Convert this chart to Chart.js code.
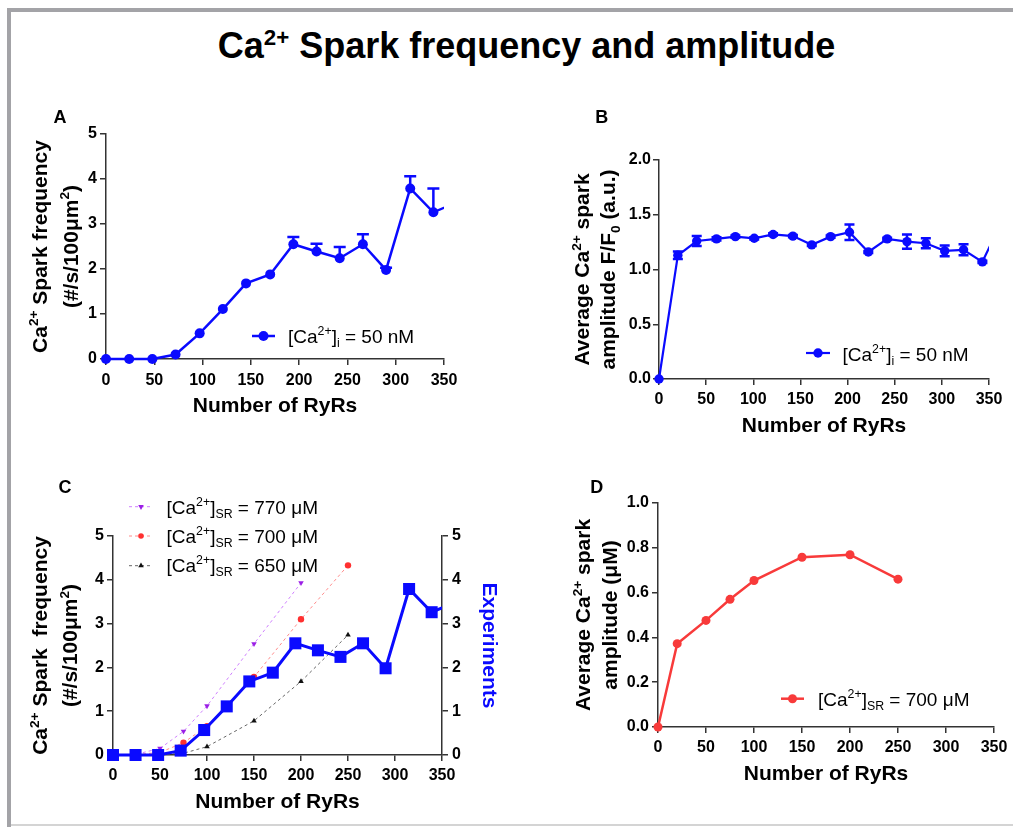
<!DOCTYPE html>
<html><head><meta charset="utf-8">
<script src="https://cdn.jsdelivr.net/npm/chart.js@4.4.1/dist/chart.umd.min.js"></script>
<style>
body{margin:0;background:#fff}
#page{position:relative;width:1013px;height:827px;overflow:hidden;background:#fff;font-family:'Liberation Sans',Arial,sans-serif}
.fr{position:absolute;background:#a3a3a7}
canvas{position:absolute}
#title{position:absolute;left:20px;width:1013px;top:28px;text-align:center;font-weight:bold;font-size:36px;line-height:36px;color:#000;white-space:nowrap}
#title span{font-size:0.62em;position:relative;top:-0.6em}
</style></head><body>
<div id="page">
<div class="fr" style="left:7px;top:8px;width:1006px;height:4px"></div>
<div class="fr" style="left:7px;top:8px;width:4px;height:819px"></div>
<div class="fr" style="left:11px;top:824px;width:1002px;height:2px;background:#d4d4d4"></div>
<div id="title">Ca<span>2+</span> Spark frequency and amplitude</div>
<canvas id="cA" width="470" height="330" style="left:0;top:100px"></canvas>
<canvas id="cB" width="513" height="340" style="left:500px;top:100px"></canvas>
<canvas id="cC" width="510" height="350" style="left:0;top:470px"></canvas>
<canvas id="cD" width="483" height="330" style="left:530px;top:470px"></canvas>
</div>
<script>
// ---------- DATA ----------
// Panel A / C (experiments): number of RyRs, spark frequency (#/s/100um2), SEM (upper bar)
const ryrA = [0, 24, 48, 72, 97, 121, 145, 170, 194, 218, 242, 266, 290, 315, 339, 363];
const freqA = [0, 0, 0, 0.10, 0.57, 1.11, 1.68, 1.88, 2.55, 2.39, 2.24, 2.55, 1.98, 3.79, 3.26, 3.48];
const freqErrA = [0, 0, 0, 0, 0, 0, 0, 0, 0.16, 0.17, 0.25, 0.22, 0.05, 0.27, 0.53, 0];
// Panel B: amplitude F/F0 with SEM
const ryrB = [0, 20, 40, 61, 81, 101, 121, 142, 162, 182, 202, 222, 242, 263, 283, 303, 323, 343, 364];
const ampB = [0, 1.13, 1.26, 1.28, 1.30, 1.285, 1.32, 1.305, 1.225, 1.30, 1.34, 1.16, 1.28, 1.255, 1.24, 1.17, 1.18, 1.07, 1.45];
const ampErrB = [0, 0.035, 0.045, 0.015, 0.01, 0.01, 0.01, 0.01, 0.01, 0.01, 0.07, 0.01, 0.01, 0.065, 0.045, 0.05, 0.05, 0.01, 0];
// Panel C: simulations
const ryrSim = [0, 25, 50, 75, 100, 150, 200, 250];
const sim770 = [0, 0.02, 0.15, 0.54, 1.12, 2.54, 3.93, null];
const sim700 = [0, 0.01, 0.06, 0.28, 0.66, 1.78, 3.10, 4.33];
const sim650 = [0, 0, 0.01, 0.04, 0.19, 0.78, 1.68, 2.74];
// Panel D: simulated amplitude (uM)
const ryrD = [0, 20, 50, 75, 100, 150, 200, 250];
const ampD = [0, 0.372, 0.476, 0.57, 0.654, 0.758, 0.769, 0.66];
// Tick labels
const ticksRyR = [0, 50, 100, 150, 200, 250, 300, 350];
const ticksFreq = [0, 1, 2, 3, 4, 5];
const ticksAmpB = [0, 0.5, 1.0, 1.5, 2.0];
const ticksAmpD = [0, 0.2, 0.4, 0.6, 0.8, 1.0];

// ---------- STYLE ----------
const FONT = "'Liberation Sans', Arial, sans-serif";
const BLUE = '#0a0aff';
const RED = '#f83a3a';
const AX = '#333333';

function pts(xs, ys) { return ys.map((y, i) => ({x: xs[i], y})).filter(p => p.y !== null && p.y !== undefined); }

function drawRich(ctx, segs, x, y, o) {
  ctx.save();
  ctx.translate(x, y);
  if (o.rotate) ctx.rotate(o.rotate);
  const f = s => `${o.weight || 'normal'} ${s}px ${FONT}`;
  let w = 0;
  const parts = segs.map(([t, k]) => { const s = k ? o.size * 0.65 : o.size; ctx.font = f(s); const m = ctx.measureText(t).width; w += m; return {t, k, s, m}; });
  let cx = o.align === 'center' ? -w / 2 : 0;
  ctx.fillStyle = o.color || '#000';
  ctx.textBaseline = 'alphabetic';
  ctx.textAlign = 'left';
  for (const p of parts) {
    ctx.font = f(p.s);
    const dy = p.k === 'sup' ? -o.size * 0.40 : (p.k === 'sub' ? o.size * 0.22 : 0);
    ctx.fillText(p.t, cx, dy);
    cx += p.m;
  }
  ctx.restore();
}

function drawMarker(ctx, style, x, y, r, color) {
  ctx.save();
  ctx.fillStyle = color;
  ctx.beginPath();
  if (style === 'circle') ctx.arc(x, y, r, 0, Math.PI * 2);
  else if (style === 'rect') { const s = r * Math.SQRT1_2; ctx.rect(x - s, y - s, 2 * s, 2 * s); }
  else {
    const d = style === 'triangle' ? 1 : -1;
    ctx.moveTo(x, y - d * r);
    ctx.lineTo(x - r * 0.866, y + d * r * 0.5);
    ctx.lineTo(x + r * 0.866, y + d * r * 0.5);
    ctx.closePath();
  }
  ctx.fill();
  ctx.restore();
}

function decor(cfg) {
  return {
    id: 'decor',
    beforeDatasetsDraw(chart) {
      const ctx = chart.ctx, a = chart.chartArea;
      chart.data.datasets.forEach((ds, i) => {
        if (!ds.errors) return;
        const meta = chart.getDatasetMeta(i);
        const ys = chart.scales[meta.yAxisID];
        ctx.save();
        ctx.beginPath(); ctx.rect(a.left - 10, a.top - 10, a.right - a.left + 10, a.bottom - a.top + 20); ctx.clip();
        ctx.strokeStyle = ds.borderColor; ctx.lineWidth = ds.errWidth || 2.5;
        meta.data.forEach((el, j) => {
          const e = ds.errors[j]; if (!e) return;
          const v = ds.data[j].y;
          const yHi = ys.getPixelForValue(v + e);
          const yLo = ds.errMode === 'both' ? ys.getPixelForValue(v - e) : el.y;
          const cw = ds.capHalf || 5;
          ctx.beginPath();
          ctx.moveTo(el.x, yLo); ctx.lineTo(el.x, yHi);
          ctx.moveTo(el.x - cw, yHi); ctx.lineTo(el.x + cw, yHi);
          if (ds.errMode === 'both') { ctx.moveTo(el.x - cw, yLo); ctx.lineTo(el.x + cw, yLo); }
          ctx.stroke();
        });
        ctx.restore();
      });
    },
    afterDraw(chart) {
      const ctx = chart.ctx, a = chart.chartArea;
      const cy = (a.top + a.bottom) / 2, cx = (a.left + a.right) / 2;
      drawRich(ctx, [[cfg.letter, '']], cfg.letterX, 23, {size: 18, weight: 'bold', align: 'center'});
      cfg.yTitle.forEach((line, k) => drawRich(ctx, line, cfg.yTitleX[k], cy, {size: 21, weight: 'bold', align: 'center', rotate: -Math.PI / 2}));
      drawRich(ctx, [['Number of RyRs', '']], cx, a.bottom + 53, {size: 21, weight: 'bold', align: 'center'});
      if (cfg.rightTitle) drawRich(ctx, cfg.rightTitle.segs, cfg.rightTitle.x, cy, {size: 21, weight: 'bold', align: 'center', rotate: Math.PI / 2, color: cfg.rightTitle.color});
      cfg.legend.forEach(it => {
        ctx.save();
        ctx.strokeStyle = it.lineColor; ctx.lineWidth = it.lineWidth;
        ctx.setLineDash(it.dash || []);
        ctx.beginPath(); ctx.moveTo(it.x1, it.y); ctx.lineTo(it.x2, it.y); ctx.stroke();
        ctx.restore();
        drawMarker(ctx, it.marker, (it.x1 + it.x2) / 2, it.y, it.r, it.markerColor);
        drawRich(ctx, it.segs, it.tx, it.ty, {size: 19, weight: 'normal', align: 'left'});
      });
    }
  };
}

function axis(pos, tickVals, fmt, size, pad) {
  const horiz = pos === 'bottom';
  return {
    type: 'linear', position: pos,
    min: tickVals[0], max: tickVals[tickVals.length - 1],
    afterBuildTicks: s => { s.ticks = tickVals.map(v => ({value: v})); },
    afterFit: s => { if (horiz) s.height = size; else s.width = size; },
    grid: {display: true, drawOnChartArea: false, drawTicks: true, tickLength: 6, color: AX, lineWidth: 1.5},
    border: {display: true, color: AX, width: 1.5},
    ticks: {autoSkip: false, maxRotation: 0, color: '#000', padding: pad, font: {family: FONT, size: 16, weight: 'bold'}, callback: fmt},
    title: {display: false}
  };
}
const fmtInt = v => String(v);
const fmt1 = v => Number(v).toFixed(1);
const CLIP = {left: 10, top: 10, right: 0, bottom: 10};

function baseOptions(padding, scales) {
  return {
    responsive: false, animation: false, events: [],
    layout: {padding},
    plugins: {legend: {display: false}, tooltip: {enabled: false}},
    scales
  };
}

// sup/sub rich text pieces
const caI = [['[Ca', ''], ['2+', 'sup'], [']', ''], ['i', 'sub'], [' = 50 nM', '']];
const caSR = v => [['[Ca', ''], ['2+', 'sup'], [']', ''], ['SR', 'sub'], [' = ' + v + ' \u03bcM', '']];

// ---------- PANEL A ----------
new Chart(document.getElementById('cA'), {
  type: 'line',
  data: {datasets: [{
    data: pts(ryrA, freqA), errors: freqErrA, errMode: 'up', capHalf: 6, errWidth: 2.5,
    borderColor: BLUE, backgroundColor: BLUE, borderWidth: 2.5, tension: 0,
    pointRadius: 5, pointHoverRadius: 5, pointBackgroundColor: BLUE, pointBorderColor: BLUE, pointBorderWidth: 0,
    clip: CLIP
  }]},
  options: baseOptions({top: 34, right: 26, left: 0, bottom: 0}, {
    x: axis('bottom', ticksRyR, fmtInt, 71, 6),
    y: axis('left', ticksFreq, fmtInt, 106, 3)
  }),
  plugins: [decor({
    letter: 'A', letterX: 60,
    yTitle: [[['Ca', ''], ['2+', 'sup'], [' Spark frequency', '']], [['(#/s/100\u03bcm', ''], ['2', 'sup'], [')', '']]],
    yTitleX: [46.7, 77.5],
    legend: [{x1: 252, x2: 275, y: 236, lineColor: BLUE, lineWidth: 2.5, marker: 'circle', r: 5, markerColor: BLUE, tx: 288, ty: 243, segs: caI}]
  })]
});

// ---------- PANEL B ----------
new Chart(document.getElementById('cB'), {
  type: 'line',
  data: {datasets: [{
    data: pts(ryrB, ampB), errors: ampErrB, errMode: 'both', capHalf: 5, errWidth: 2.5,
    borderColor: BLUE, backgroundColor: BLUE, borderWidth: 2.2, tension: 0,
    pointRadius: 4.7, pointHoverRadius: 4.7, pointBackgroundColor: BLUE, pointBorderColor: BLUE, pointBorderWidth: 0,
    clip: CLIP
  }]},
  options: baseOptions({top: 60, right: 24, left: 0, bottom: 0}, {
    x: axis('bottom', ticksRyR, fmtInt, 61, 5),
    y: axis('left', ticksAmpB, fmt1, 159, 2)
  }),
  plugins: [decor({
    letter: 'B', letterX: 101.7,
    yTitle: [[['Average Ca', ''], ['2+', 'sup'], [' spark', '']], [['amplitude F/F', ''], ['0', 'sub'], [' (a.u.)', '']]],
    yTitleX: [89, 115],
    legend: [{x1: 306, x2: 330, y: 253, lineColor: BLUE, lineWidth: 2.2, marker: 'circle', r: 4.7, markerColor: BLUE, tx: 342.5, ty: 260.5, segs: caI}]
  })]
});

// ---------- PANEL C ----------
const dashed = (ys, lineC, ptC, style, rot) => ({
  data: pts(ryrSim, ys), yAxisID: 'y',
  borderColor: lineC, backgroundColor: ptC, borderWidth: 1, borderDash: [3, 3], tension: 0,
  pointStyle: style, pointRotation: rot, pointRadius: 3.2, pointHoverRadius: 3.2,
  pointBackgroundColor: ptC, pointBorderColor: ptC, pointBorderWidth: 0, clip: CLIP
});
new Chart(document.getElementById('cC'), {
  type: 'line',
  data: {datasets: [
    {
      data: pts(ryrA, freqA), yAxisID: 'y2',
      borderColor: BLUE, backgroundColor: BLUE, borderWidth: 3, tension: 0,
      pointStyle: 'rect', pointRadius: 8.5, pointHoverRadius: 8.5, pointBackgroundColor: BLUE, pointBorderColor: BLUE, pointBorderWidth: 0,
      clip: CLIP
    },
    dashed(sim770, '#cf80ff', '#9b1fe6', 'triangle', 180),
    dashed(sim700, '#ff8a8a', '#ff3030', 'circle', 0),
    dashed(sim650, '#666666', '#111111', 'triangle', 0)
  ]},
  options: baseOptions({top: 66, right: 0, left: 0, bottom: 0}, {
    x: axis('bottom', ticksRyR, fmtInt, 65, 5),
    y: axis('left', ticksFreq, fmtInt, 113, 3),
    y2: axis('right', ticksFreq, fmtInt, 68, 4)
  }),
  plugins: [decor({
    letter: 'C', letterX: 65,
    yTitle: [[['Ca', ''], ['2+', 'sup'], [' Spark  frequency', '']], [['(#/s/100\u03bcm', ''], ['2', 'sup'], [')', '']]],
    yTitleX: [47, 77],
    rightTitle: {segs: [['Experiments', '']], x: 483, color: BLUE},
    legend: [
      {x1: 129, x2: 153, y: 36.7, dash: [3, 3], lineColor: '#cf80ff', lineWidth: 1, marker: 'triangleDown', r: 3.2, markerColor: '#9b1fe6', tx: 166.5, ty: 44, segs: caSR(770)},
      {x1: 129, x2: 153, y: 66, dash: [3, 3], lineColor: '#ff8a8a', lineWidth: 1, marker: 'circle', r: 2.8, markerColor: '#ff3030', tx: 166.5, ty: 73, segs: caSR(700)},
      {x1: 129, x2: 153, y: 95.7, dash: [3, 3], lineColor: '#666666', lineWidth: 1, marker: 'triangle', r: 3.2, markerColor: '#111111', tx: 166.5, ty: 102, segs: caSR(650)}
    ]
  })]
});

// ---------- PANEL D ----------
new Chart(document.getElementById('cD'), {
  type: 'line',
  data: {datasets: [{
    data: pts(ryrD, ampD),
    borderColor: RED, backgroundColor: RED, borderWidth: 2.5, tension: 0,
    pointRadius: 4.5, pointHoverRadius: 4.5, pointBackgroundColor: RED, pointBorderColor: RED, pointBorderWidth: 0,
    clip: CLIP
  }]},
  options: baseOptions({top: 33, right: 19, left: 0, bottom: 0}, {
    x: axis('bottom', ticksRyR, fmtInt, 73, 5),
    y: axis('left', ticksAmpD, fmt1, 128, 3)
  }),
  plugins: [decor({
    letter: 'D', letterX: 66.7,
    yTitle: [[['Average Ca', ''], ['2+', 'sup'], [' spark', '']], [['amplitude (\u03bcM)', '']]],
    yTitleX: [60, 87],
    legend: [{x1: 251, x2: 274, y: 228.7, lineColor: RED, lineWidth: 2.5, marker: 'circle', r: 4.5, markerColor: RED, tx: 288, ty: 236, segs: caSR(700)}]
  })]
});
</script>
</body></html>
